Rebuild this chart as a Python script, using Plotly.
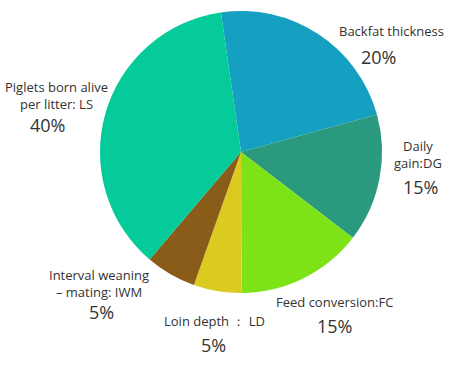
import plotly.graph_objects as go

names = ["Backfat thickness", "Daily<br>gain:DG", "Feed conversion:FC", "Loin depth ： LD",
         "Interval weaning<br>– mating: IWM", "Piglets born alive<br>per litter: LS"]
values = [23.0, 14.7, 14.5, 5.5, 5.8, 36.5]
pct_labels = ["20%", "15%", "15%", "5%", "5%", "40%"]
colors = ["#15A0C2", "#2A997D", "#7DE317", "#DBCB21", "#8A5C1A", "#04CB99"]

W, H = 460, 370

def px(x, y):
    return x / W, 1 - y / H

# label anchor positions in screen pixels (name block centre / percent)
name_px = [(391, 31), (418, 155), (334, 302), (214, 321), (99, 283), (56, 95)]
pct_px = [(378, 57), (420, 187), (334, 326), (213, 345), (101, 312), (47, 125)]

fig = go.Figure(go.Pie(
    labels=[n.replace("<br>", " ") for n in names], values=values, sort=False,
    direction="clockwise", rotation=-8.2,
    marker=dict(colors=colors, line=dict(width=0)),
    textinfo="none", hoverinfo="label+percent", showlegend=False,
    domain=dict(x=[100 / W, 382 / W], y=[1 - 293 / H, 1 - 11 / H]),
))

fig.update_layout(width=W, height=H, margin=dict(l=0, r=0, t=0, b=0),
                  paper_bgcolor="white", plot_bgcolor="white",
                  font=dict(family="Open Sans, Noto Sans, sans-serif", color="#333333"))

for n, p, npx, ppx in zip(names, pct_labels, name_px, pct_px):
    nx, ny = px(*npx)
    fig.add_annotation(x=nx, y=ny, xref="paper", yref="paper", text=n, showarrow=False,
                       xanchor="center", yanchor="middle", align="center", borderpad=0,
                       font=dict(size=13, color="#333333"))
    qx, qy = px(*ppx)
    fig.add_annotation(x=qx, y=qy, xref="paper", yref="paper", text=p, showarrow=False,
                       xanchor="center", yanchor="middle", borderpad=0,
                       font=dict(size=18, color="#333333"))

fig.write_html("out.html", config={"displayModeBar": False},
               post_script="document.body.style.margin='0';")
